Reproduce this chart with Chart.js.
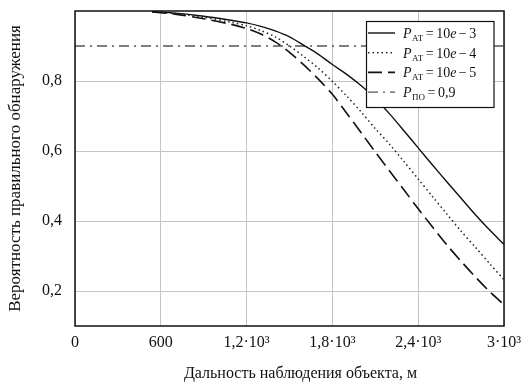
<!DOCTYPE html>
<html>
<head>
<meta charset="utf-8">
<script src="https://cdn.jsdelivr.net/npm/chart.js@4"></script>
<style>
  html, body { margin: 0; padding: 0; background: #fff; }
  #wrap { width: 529px; height: 390px; }
</style>
</head>
<body>
<div id="wrap"><canvas id="chart" width="529" height="390"></canvas></div>
<script>
// distance, m
const distance = [540, 700, 900, 1100, 1200, 1300, 1400, 1500, 1600, 1700, 1800, 1900,
                  2000, 2100, 2200, 2300, 2400, 2500, 2600, 2700, 2800, 2900, 3000];
// P_AT = 10e-3
const pFa3 = [0.998, 0.994, 0.985, 0.973, 0.966, 0.956, 0.943, 0.926, 0.902, 0.877, 0.847, 0.819,
              0.787, 0.750, 0.706, 0.658, 0.609, 0.560, 0.512, 0.465, 0.418, 0.374, 0.333];
// P_AT = 10e-4
const pFa4 = [0.998, 0.993, 0.982, 0.967, 0.958, 0.944, 0.926, 0.900, 0.870, 0.837, 0.799, 0.757,
              0.712, 0.664, 0.619, 0.570, 0.520, 0.470, 0.420, 0.371, 0.325, 0.278, 0.232];
// P_AT = 10e-5
const pFa5 = [0.997, 0.991, 0.978, 0.961, 0.950, 0.934, 0.912, 0.882, 0.846, 0.806, 0.762, 0.708,
              0.653, 0.597, 0.543, 0.489, 0.435, 0.383, 0.332, 0.285, 0.240, 0.198, 0.161];
// required P_ПО
const levelX = [0, 3000];
const levelY = [0.9, 0.9];

const xTicks = [0, 600, 1200, 1800, 2400, 3000];
const xTickLabels = ['0', '600', '1,2·10³', '1,8·10³', '2,4·10³', '3·10³'];
const yTicks = [0.2, 0.4, 0.6, 0.8];
const yTickLabels = ['0,2', '0,4', '0,6', '0,8'];
const xTitle = 'Дальность наблюдения объекта, м';
const yTitle = 'Вероятность правильного обнаружения';

// legend: subscript and the right-hand side, token by token (' ' = small gap)
const legendItems = [
  { sub: 'АТ', rhs: [' ', '=', ' ', '10', 'e', ' ', '−', ' ', '3'] },
  { sub: 'АТ', rhs: [' ', '=', ' ', '10', 'e', ' ', '−', ' ', '4'] },
  { sub: 'АТ', rhs: [' ', '=', ' ', '10', 'e', ' ', '−', ' ', '5'] },
  { sub: 'ПО', rhs: [' ', '=', ' ', '0,9'] }
];

const serif = '"Liberation Serif", "DejaVu Serif", serif';

function pts(xs, ys) {
  return xs.map((x, i) => ({ x: x, y: ys[i] }));
}

const frame = {
  id: 'frame',
  afterDatasetsDraw(chart) {
    const a = chart.chartArea;
    const ctx = chart.ctx;
    ctx.save();
    ctx.strokeStyle = '#111';
    ctx.lineWidth = 1.5;
    ctx.strokeRect(a.left, a.top, a.right - a.left, a.bottom - a.top);
    // x title sits a bit right of the plot centre in the original
    ctx.fillStyle = '#111';
    ctx.font = '16px ' + serif;
    ctx.textAlign = 'center';
    ctx.textBaseline = 'middle';
    ctx.fillText(xTitle, (a.left + a.right) / 2 + 11, 374);
    ctx.restore();
  }
};

const boxLegend = {
  id: 'boxLegend',
  afterDraw(chart) {
    const ctx = chart.ctx;
    const x0 = 366.5, y0 = 21.5, w = 127.5, h = 86;
    ctx.save();
    ctx.fillStyle = '#fff';
    ctx.fillRect(x0, y0, w, h);
    ctx.strokeStyle = '#111';
    ctx.lineWidth = 1.2;
    ctx.strokeRect(x0, y0, w, h);
    legendItems.forEach((item, i) => {
      const ds = chart.data.datasets[i];
      const y = 33 + i * 19.7;
      ctx.beginPath();
      ctx.setLineDash(ds.borderDash || []);
      ctx.strokeStyle = ds.borderColor;
      ctx.lineWidth = ds.borderWidth;
      ctx.moveTo(368, y);
      ctx.lineTo(395, y);
      ctx.stroke();
      ctx.setLineDash([]);
      ctx.fillStyle = '#111';
      ctx.textBaseline = 'alphabetic';
      let tx = 403;
      const base = y + 5;
      ctx.font = 'italic 14px ' + serif;
      ctx.fillText('P', tx, base);
      tx += ctx.measureText('P').width + 0.5;
      ctx.font = '9px ' + serif;
      ctx.fillText(item.sub, tx, base + 3);
      tx += ctx.measureText(item.sub).width;
      item.rhs.forEach(p => {
        if (p === ' ') { tx += 2.5; return; }
        ctx.font = (p === 'e' ? 'italic ' : '') + '14px ' + serif;
        ctx.fillText(p, tx, base);
        tx += ctx.measureText(p).width;
      });
    });
    ctx.restore();
  }
};

new Chart(document.querySelector('#chart').getContext('2d'), {
  type: 'line',
  data: {
    datasets: [
      { label: 'PАТ = 10e − 3', data: pts(distance, pFa3), borderColor: '#111', borderWidth: 1.4,
        pointRadius: 0, tension: 0.3, fill: false },
      { label: 'PАТ = 10e − 4', data: pts(distance, pFa4), borderColor: '#222', borderWidth: 1.5,
        borderDash: [1.5, 3], pointRadius: 0, tension: 0.3, fill: false },
      { label: 'PАТ = 10e − 5', data: pts(distance, pFa5), borderColor: '#111', borderWidth: 1.6,
        borderDash: [14, 6], pointRadius: 0, tension: 0.3, fill: false },
      { label: 'PПО = 0,9', data: pts(levelX, levelY), borderColor: '#555', borderWidth: 1.4,
        borderDash: [10, 5, 2, 5], pointRadius: 0, fill: false }
    ]
  },
  options: {
    responsive: false,
    animation: false,
    layout: { padding: { left: 0, right: 25, top: 11, bottom: 4 } },
    plugins: { legend: { display: false }, tooltip: { enabled: false } },
    scales: {
      x: {
        type: 'linear',
        min: 0, max: 3000,
        afterBuildTicks: s => { s.ticks = xTicks.map(v => ({ value: v })); },
        afterFit: s => { s.height = 60; s.paddingLeft = 0; s.paddingRight = 0; },
        grid: { color: '#c4c4c4', lineWidth: 1, drawTicks: false },
        border: { display: false },
        ticks: {
          padding: 7,
          color: '#111',
          maxRotation: 0,
          font: { family: serif, size: 16 },
          callback: v => xTickLabels[xTicks.indexOf(v)]
        }
      },
      y: {
        min: 0.1, max: 1.0,
        afterBuildTicks: s => { s.ticks = yTicks.map(v => ({ value: v })); },
        afterFit: s => { s.width = 75; s.paddingTop = 0; s.paddingBottom = 0; },
        grid: { color: '#c4c4c4', lineWidth: 1, drawTicks: false },
        border: { display: false },
        ticks: {
          padding: 13,
          color: '#111',
          font: { family: serif, size: 16 },
          callback: v => yTickLabels[yTicks.indexOf(v)]
        },
        title: {
          display: true,
          text: yTitle,
          color: '#111',
          font: { family: serif, size: 17 },
          padding: { top: 5, bottom: 4 }
        }
      }
    }
  },
  plugins: [frame, boxLegend]
});
</script>
</body>
</html>
